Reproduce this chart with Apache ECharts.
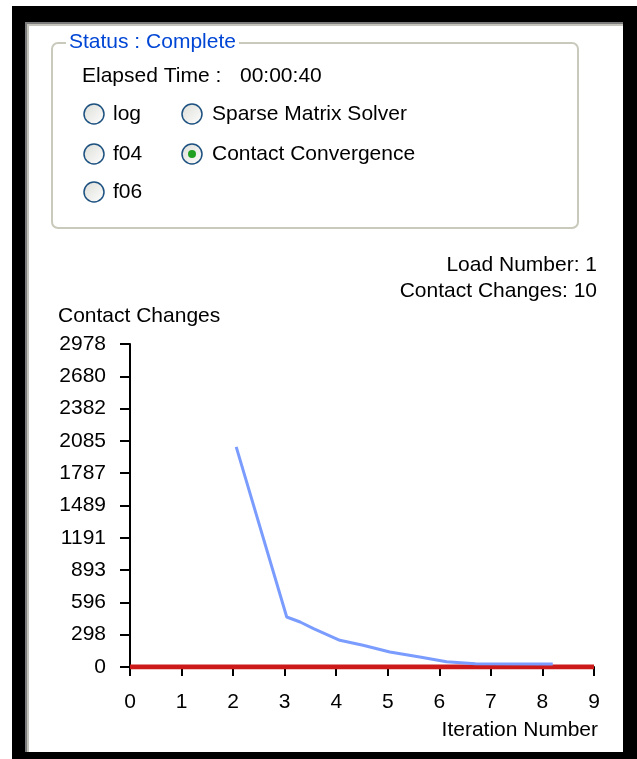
<!DOCTYPE html>
<html>
<head>
    <meta charset="utf-8">
    <title>Contact Convergence</title>
    <script type="text/javascript" src="https://cdn.jsdelivr.net/npm/echarts@6/dist/echarts.min.js"></script>
    <style>
        html, body { margin: 0; padding: 0; background: #fff; }
    </style>
</head>
<body>
    <div id="main" style="width: 637px;height:759px;"></div>
    <script type="text/javascript">
        // data
        var xTicks = [0, 1, 2, 3, 4, 5, 6, 7, 8, 9];
        var yTickLabels = ['0', '298', '596', '893', '1191', '1489', '1787', '2085', '2382', '2680', '2978'];
        var yMax = 2978;
        var loadLine = [[0, 0], [9, 0]];
        var contactIter = [2.06, 3.04, 3.3, 3.56, 4.07, 4.52, 5.04, 5.62, 6.14, 6.7, 8.2];
        var contactChanges = [2030, 461, 415, 354, 246, 200, 138, 92, 48, 30, 28];

        var font = 'Liberation Sans, Arial, sans-serif';
        var myChart = echarts.init(document.getElementById('main'));

        var contactData = contactIter.map(function (x, i) { return [x, contactChanges[i]]; });

        function radio(cx, cy, checked) {
            var els = [{
                type: 'circle', z: -5,
                shape: { cx: cx, cy: cy, r: 10 },
                style: {
                    stroke: '#1c5180', lineWidth: 1.5,
                    fill: new echarts.graphic.LinearGradient(0, 0, 1, 1, [
                        { offset: 0, color: '#dcdcd7' }, { offset: 1, color: '#ffffff' }])
                }
            }];
            if (checked) {
                els.push({ type: 'circle', z: -4, shape: { cx: cx, cy: cy, r: 4 }, style: { fill: '#21a121' } });
            }
            return els;
        }

        function label(x, y, text, align, color) {
            return {
                type: 'text', z: -4, x: x, y: y,
                style: {
                    text: text, font: '21px ' + font, fill: color || '#000',
                    align: align || 'left', verticalAlign: 'middle'
                }
            };
        }

        var chrome = [
            // window frame
            { type: 'rect', z: -10, shape: { x: 12, y: 6, width: 625, height: 753 }, style: { fill: '#000' } },
            { type: 'rect', z: -9, shape: { x: 25, y: 22, width: 598, height: 730 }, style: { fill: '#fff' } },
            { type: 'rect', z: -8, shape: { x: 25, y: 22, width: 2, height: 730 }, style: { fill: '#7c7c7c' } },
            { type: 'rect', z: -8, shape: { x: 27, y: 24, width: 2, height: 728 }, style: { fill: '#c4c4bc' } },
            { type: 'rect', z: -8, shape: { x: 25, y: 22, width: 598, height: 2 }, style: { fill: '#7c7c7c' } },
            { type: 'rect', z: -8, shape: { x: 27, y: 24, width: 596, height: 2 }, style: { fill: '#c4c4bc' } },
            // group box
            { type: 'rect', z: -6, shape: { x: 52, y: 43, width: 526, height: 185, r: 6 }, style: { fill: null, stroke: '#c9c9bc', lineWidth: 2 } },
            {
                type: 'text', z: -4, x: 66, y: 42,
                style: {
                    text: 'Status : Complete', font: '21px ' + font, fill: '#0046d5',
                    verticalAlign: 'middle', backgroundColor: '#fff', padding: [0, 3]
                }
            },
            label(82, 76, 'Elapsed Time :'),
            label(240, 76, '00:00:40'),
            label(113, 114, 'log'),
            label(212, 114, 'Sparse Matrix Solver'),
            label(113, 154, 'f04'),
            label(212, 154, 'Contact Convergence'),
            label(113, 192, 'f06'),
            // chart texts
            label(597, 265, 'Load Number: 1', 'right'),
            label(597, 291, 'Contact Changes: 10', 'right'),
            label(58, 316, 'Contact Changes'),
            label(598, 730, 'Iteration Number', 'right')
        ];
        chrome = chrome.concat(radio(94, 114, false), radio(192, 114, false),
            radio(94, 154, false), radio(192, 154, true), radio(94, 192, false));

        var option = {
            animation: false,
            backgroundColor: '#fff',
            graphic: chrome,
            grid: { left: 130, right: 43, top: 344, bottom: 92 },
            xAxis: {
                type: 'value',
                min: xTicks[0],
                max: xTicks[xTicks.length - 1],
                interval: 1,
                splitLine: { show: false },
                axisLine: { lineStyle: { color: '#000', width: 2 } },
                axisTick: { length: 9, lineStyle: { color: '#000', width: 2 } },
                axisLabel: { margin: 25, color: '#000', fontSize: 21, fontFamily: font }
            },
            yAxis: {
                type: 'value',
                min: 0,
                max: yMax,
                interval: yMax / 10,
                splitLine: { show: false },
                axisLine: { show: true, lineStyle: { color: '#000', width: 2 } },
                axisTick: { show: true, length: 10, lineStyle: { color: '#000', width: 2 } },
                axisLabel: {
                    margin: 24, color: '#000', fontSize: 21, fontFamily: font,
                    formatter: function (v) {
                        return yTickLabels[Math.round(v / (yMax / 10))];
                    }
                }
            },
            series: [{
                name: 'Load',
                type: 'line',
                symbol: 'none',
                data: loadLine,
                lineStyle: { color: '#cc1a1a', width: 5 },
                z: 3
            }, {
                name: 'Contact Changes',
                type: 'line',
                symbol: 'none',
                data: contactData,
                lineStyle: { color: '#7b9cff', width: 3 },
                z: 4
            }]
        };

        myChart.setOption(option);
    </script>
</body>
</html>
